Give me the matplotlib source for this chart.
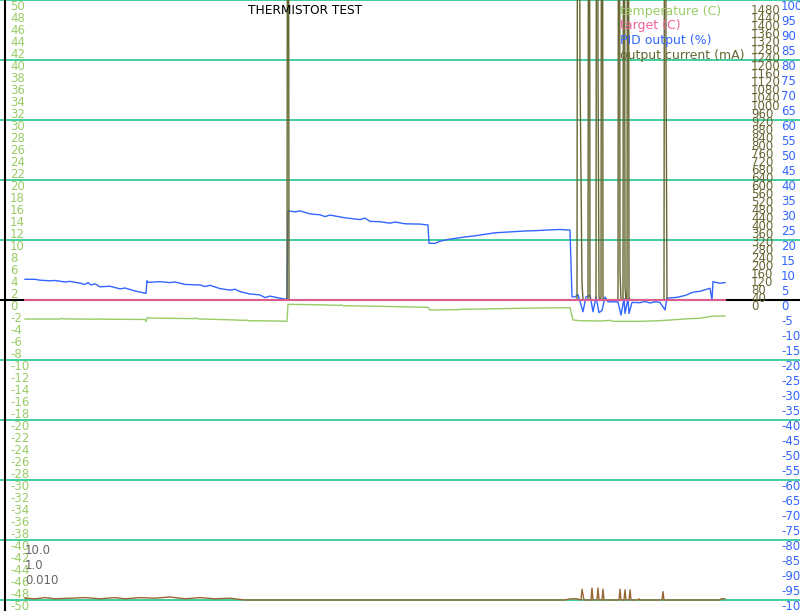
import matplotlib.pyplot as plt

# time axis in seconds
t_temp = [0, 35, 36, 38, 75, 76, 78, 120, 121, 122, 125, 140, 170, 171, 173, 205, 220, 221, 223,
          250, 262, 263, 295, 315, 316, 318, 355, 403, 405, 435, 436, 438, 475, 505, 545, 548,
          555, 575, 585, 587, 615, 635, 665, 675, 687, 700]
temperature = [-3.17, -3.17, -3.05, -3.15, -3.2, -3.1, -3.2, -3.25, -3.6, -2.95, -3.0, -3.05, -3.1, -3.0, -3.15,
               -3.3, -3.4, -3.3, -3.45, -3.5, -3.55, -0.72, -0.8, -0.9, -0.8, -0.95, -1.05, -1.22, -1.67,
               -1.6, -1.5, -1.55, -1.45, -1.35, -1.28, -3.33, -3.45, -3.5, -3.4, -3.55, -3.55, -3.45,
               -3.1, -3.05, -2.7, -2.67]

t_target = [0, 700]
target = [0, 0]

t_pid = [0, 10, 15, 25, 30, 40, 45, 55, 60, 63, 66, 70, 75, 85, 95, 100, 110, 121, 122, 123, 135, 145,
         150, 160, 175, 180, 185, 195, 205, 210, 215, 225, 235, 240, 245, 255, 262, 263, 270, 275, 285,
         295, 300, 305, 320, 335, 340, 345, 355, 365, 370, 380, 395, 403, 404, 410, 415, 425, 440, 450,
         460, 470, 480, 490, 500, 510, 520, 535, 545, 547, 550, 553, 558, 561, 565, 568, 571, 574, 577,
         580, 583, 593, 596, 599, 600, 603, 604, 607, 615, 620, 625, 630, 635, 640, 642, 652, 660, 668,
         675, 685, 687, 688, 692, 695, 700]
pid_output = [6.9, 6.9, 6.6, 6.4, 6.5, 6.0, 6.2, 5.6, 5.2, 5.8, 5.0, 5.4, 4.4, 4.6, 3.7, 4.0, 3.0, 2.2,
              6.4, 5.9, 6.1, 5.8, 6.0, 5.2, 5.0, 4.5, 4.9, 3.8, 3.3, 3.6, 2.8, 2.0, 1.7, 0.8, 1.3, 0.6,
              0.2, 29.7, 29.4, 29.7, 28.7, 28.4, 27.8, 28.3, 27.4, 26.8, 27.3, 26.2, 26.1, 25.6, 26.0,
              25.4, 25.3, 25.0, 18.9, 18.9, 19.6, 20.3, 21.0, 21.4, 21.9, 22.4, 22.6, 22.8, 23.0, 23.1,
              23.3, 23.5, 23.3, 1.1, 1.0, 1.8, -3.9, 1.0, 1.6, -3.9, 1.0, -4.2, -3.5, 1.0, -0.6, -0.6,
              -5.0, 0.5, -4.5, 0.5, -4.5, -0.8, -0.9, -0.5, -1.0, -0.6, -0.8, -3.3, 0.6, 0.9, 1.5, 2.6,
              2.9, 3.9, 0.0, 6.1, 5.8, 5.6, 5.8]

t_current = [0, 262, 263, 264, 552, 553, 555, 557, 558, 563, 564, 565, 566, 571, 572, 573, 574, 575,
             576, 577, 578, 579, 593, 594, 595, 596, 598, 599, 600, 601, 602, 603, 604, 605, 639, 640,
             641, 642, 700]
output_current = [0, 0, 5000, 0, 0, 5000, 1150, 86, 0, 0, 5000, 15, 0, 0, 5000, 1200, 15, 0,
                  0, 5000, 10, 0, 0, 5000, 150, 0, 0, 5000, 65, 0, 0, 5000, 15, 0, 0, 5000,
                  1235, 0, 0]

t_error = [0, 10, 20, 30, 45, 60, 75, 90, 100, 115, 130, 145, 160, 175, 190, 205, 220, 540, 545, 552,
           556, 557, 559, 566, 567, 568, 572, 573, 574, 577, 578, 579, 594, 595, 596, 599, 600, 601,
           604, 605, 606, 613, 614, 615, 637, 638, 639, 695, 696, 700]
error = [0.15, 0.1, 0.2, 0.1, 0.15, 0.2, 0.1, 0.2, 0.1, 0.2, 0.15, 0.25, 0.1, 0.2, 0.1, 0.15, 0.0, 0.0,
         0.1, 0.1, 0.0, 0.9, 0.0, 0.0, 1.0, 0.0, 0.0, 1.0, 0.0, 0.0, 0.9, 0.0, 0.0, 0.9, 0.0, 0.0,
         0.85, 0.0, 0.0, 0.85, 0.0, 0.0, 0.1, 0.0, 0.0, 0.7, 0.0, 0.0, 0.1, 0.1]

temp_ticks = list(range(-50, 51, 2))
grid_values = list(range(-50, 51, 10))
pid_ticks = list(range(-100, 101, 5))
current_ticks = list(range(0, 1481, 40))
log_labels = ['10.0', '1.0', '0.010']
legend_names = ['temperature (C)', 'target (C)', 'PID output (%)', 'output current (mA)']

c_temp = '#99cc66'
c_target = '#f0609a'
c_pid = '#3366ff'
c_cur = '#666633'
c_err = '#996633'
c_grid = '#33cc99'

fig = plt.figure(figsize=(8, 6.11), dpi=100)
ax = fig.add_axes([0, 0, 1, 1])
ax.set_xlim(-25, 775)
ax.set_ylim(-50 - 11 / 6, 50)

for g in grid_values:
    ax.axhline(g, color=c_grid, lw=1.3, zorder=1)
ax.axhline(0, color='black', lw=1.5, zorder=2)
ax.axvline(-20, color='black', lw=1.5, zorder=2)

ax.plot(t_temp, temperature, color=c_temp, lw=1, zorder=3)

ax.set_yticks(temp_ticks)
ax.set_yticklabels([str(v) for v in temp_ticks])
ax.tick_params(axis='y', length=0, pad=-7.2, labelsize=8.5, labelcolor=c_temp)
for lbl in ax.get_yticklabels():
    lbl.set_ha('left')
    lbl.set_va('top')
ax.set_xticks([])

# PID output (%)
ax2 = ax.twinx()
ax2.set_ylim(-100 - 11 / 3, 100)
ax2.plot(t_pid, pid_output, color=c_pid, lw=1)
ax2.set_yticks(pid_ticks)
ax2.set_yticklabels([str(v) for v in pid_ticks])
ax2.tick_params(axis='y', length=0, pad=-13.7, labelsize=8.5, labelcolor=c_pid)
for lbl in ax2.get_yticklabels():
    lbl.set_va('top')

# output current (mA)
ax3 = ax.twinx()
ax3.set_ylim(-1500 - 55, 1500)
ax3.plot(t_current, output_current, color=c_cur, lw=1)
ax3.spines['right'].set_position(('axes', 751 / 800))
ax3.set_yticks(current_ticks)
ax3.set_yticklabels([str(v) for v in current_ticks])
ax3.tick_params(axis='y', length=0, pad=0, labelsize=8.5, labelcolor=c_cur)
for lbl in ax3.get_yticklabels():
    lbl.set_va('top')

# error trace at the bottom
ax4 = ax.twinx()
ax4.set_ylim(-11 / 12, 50)
ax4.plot(t_error, error, color=c_err, lw=1)
ax4.set_yticks([])

# target on top of everything, same scale as temperature
ax5 = ax.twinx()
ax5.set_ylim(-50 - 11 / 6, 50)
ax5.plot(t_target, target, color=c_target, lw=1.3)
ax5.set_yticks([])

for a in [ax, ax2, ax3, ax4, ax5]:
    for s in a.spines.values():
        s.set_visible(False)
    a.set_xlim(-25, 775)

for i, lab in enumerate(log_labels):
    fig.text(25 / 800, 1 - (551 + 14.5 * i) / 611, lab, color='#666666', fontsize=8.5,
             ha='left', va='center')

fig.text(305.5 / 800, 1 - 11 / 611, 'THERMISTOR TEST', color='black', fontsize=8.7,
         ha='center', va='center')

for i, (name, col) in enumerate(zip(legend_names, [c_temp, c_target, c_pid, c_cur])):
    fig.text(620 / 800, 1 - (11 + 14.7 * i) / 611, name, color=col, fontsize=9,
             ha='left', va='center')

fig.savefig('out.png', dpi=100)
